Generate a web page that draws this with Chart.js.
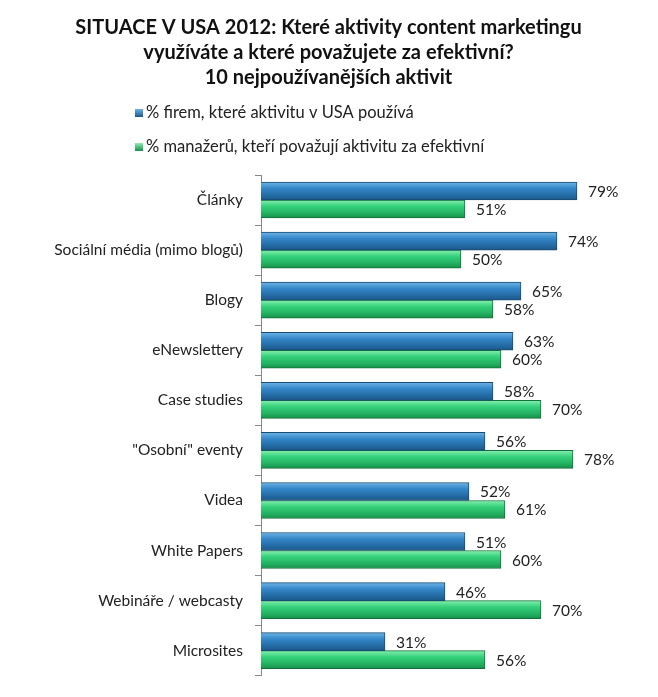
<!DOCTYPE html>
<html>
<head>
<meta charset="utf-8">
<script src="https://cdn.jsdelivr.net/npm/chart.js@4.4.1/dist/chart.umd.min.js"></script>
<style>
  html, body { margin: 0; padding: 0; background: #fff; }
  #wrap { width: 658px; height: 697px; }
</style>
</head>
<body>
<div id="wrap"><canvas id="chart"></canvas></div>
<script>
const titleLines = [
  'SITUACE V USA 2012: Které aktivity content marketingu',
  'využíváte a které považujete za efektivní?',
  '10 nejpoužívanějších aktivit'
];
const categories = [
  'Články',
  'Sociální média (mimo blogů)',
  'Blogy',
  'eNewslettery',
  'Case studies',
  '"Osobní" eventy',
  'Videa',
  'White Papers',
  'Webináře / webcasty',
  'Microsites'
];
const seriesNames = [
  '% firem, které aktivitu v USA používá',
  '% manažerů, kteří považují aktivitu za efektivní'
];
const usedShare = [79, 74, 65, 63, 58, 56, 52, 51, 46, 31];
const effectiveShare = [51, 50, 58, 60, 70, 78, 61, 60, 70, 56];

const FONT = 'Lato, "Open Sans", sans-serif';
const blueStops = ['#6cb4e6', '#3587c8', '#236aa3', '#1b5788'];
const greenStops = ['#86f0b0', '#35d07a', '#22b060', '#178f4a'];

// vertical gradient for each bar, worked out from the category scale
const barFill = (stops, shift) => (ctx) => {
  const chart = ctx.chart;
  const y = chart.scales.y;
  if (!y || ctx.dataIndex === undefined) return stops[1];
  const center = y.getPixelForValue(ctx.dataIndex) + shift;
  if (!isFinite(center)) return stops[1];
  const g = chart.ctx.createLinearGradient(0, center - 9, 0, center + 9);
  g.addColorStop(0, stops[0]);
  g.addColorStop(0.35, stops[1]);
  g.addColorStop(0.75, stops[2]);
  g.addColorStop(1, stops[3]);
  return g;
};

const valueLabels = {
  id: 'valueLabels',
  afterDatasetsDraw(chart) {
    const c = chart.ctx;
    c.save();
    c.font = '15.5px ' + FONT;
    c.fillStyle = '#222';
    c.textBaseline = 'middle';
    chart.data.datasets.forEach((ds, i) => {
      chart.getDatasetMeta(i).data.forEach((bar, j) => {
        c.fillText(ds.data[j] + '%', bar.x + 11, bar.y + 1);
      });
    });
    c.restore();
  }
};

const stackedLegend = {
  id: 'stackedLegend',
  afterDraw(chart) {
    const c = chart.ctx;
    const rows = [113, 147];
    const fills = [blueStops, greenStops];
    c.save();
    c.font = '16.5px ' + FONT;
    c.textBaseline = 'middle';
    chart.data.datasets.forEach((ds, i) => {
      const y = rows[i];
      const g = c.createLinearGradient(0, y - 4, 0, y + 4);
      g.addColorStop(0, fills[i][0]);
      g.addColorStop(1, fills[i][3]);
      c.fillStyle = g;
      c.fillRect(135, y - 4, 8, 8);
      c.fillStyle = '#222';
      c.fillText(ds.label, 146, y);
    });
    c.restore();
  }
};

new Chart(document.getElementById('chart'), {
  type: 'bar',
  data: {
    labels: categories,
    datasets: [
      {
        label: seriesNames[0],
        data: usedShare,
        backgroundColor: barFill(blueStops, -9),
        borderColor: '#1a4b73',
        borderWidth: 1,
        borderSkipped: 'start',
        barThickness: 18
      },
      {
        label: seriesNames[1],
        data: effectiveShare,
        backgroundColor: barFill(greenStops, 9),
        borderColor: '#14703a',
        borderWidth: 1,
        borderSkipped: 'start',
        barThickness: 18
      }
    ]
  },
  options: {
    indexAxis: 'y',
    responsive: true,
    maintainAspectRatio: false,
    animation: false,
    layout: { padding: { top: 0, right: 1, bottom: 20, left: 0 } },
    plugins: {
      legend: { display: false },
      tooltip: { enabled: false },
      title: {
        display: true,
        text: titleLines,
        color: '#111',
        font: { family: FONT, size: 20, weight: 'bold', lineHeight: 1.25 },
        padding: { top: 15, bottom: 85 }
      }
    },
    scales: {
      x: { display: false, min: 0, max: 99 },
      y: {
        afterFit(scale) { scale.width = 261; },
        grid: { display: true, drawOnChartArea: false, offset: true, tickLength: 6, color: '#888' },
        border: { display: true, color: '#888' },
        ticks: { color: '#222', padding: 12, font: { family: FONT, size: 15.5 } }
      }
    }
  },
  plugins: [valueLabels, stackedLegend]
});
</script>
</body>
</html>
